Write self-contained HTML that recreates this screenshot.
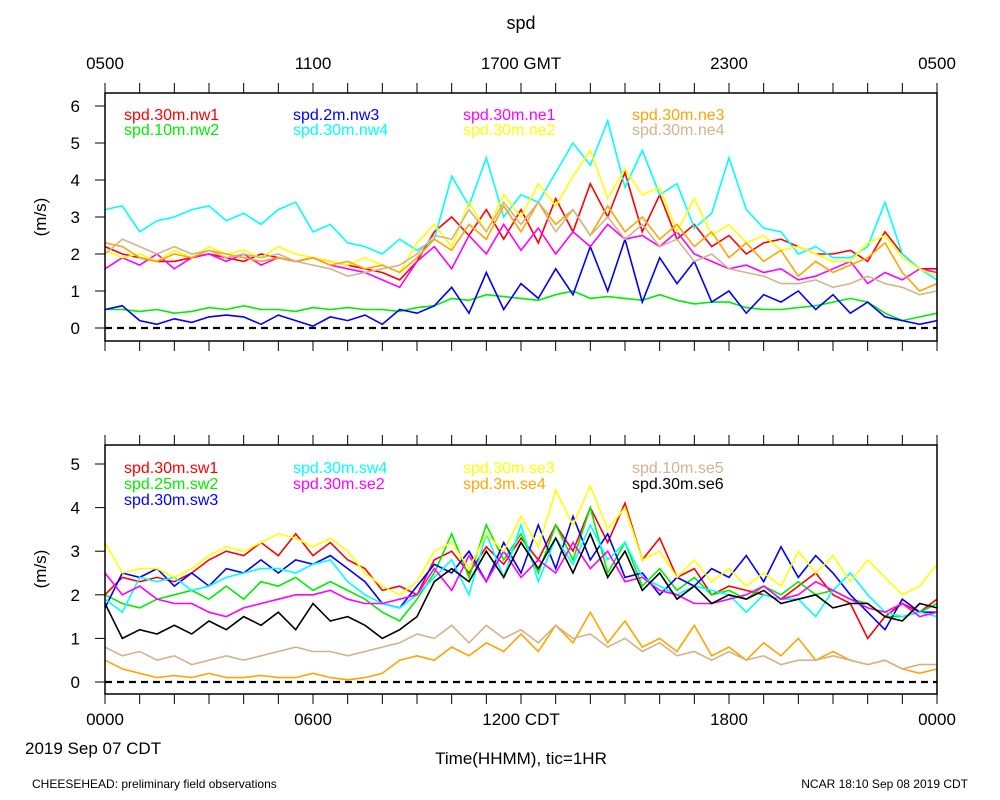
<!DOCTYPE html>
<html><head><meta charset="utf-8"><style>
body{margin:0;background:#fff}
svg{display:block;font-family:"Liberation Sans",sans-serif}
</style></head><body>
<svg id="c" width="1000" height="800"></svg>
<script>
const topSeriesNames=["spd.30m.nw1","spd.10m.nw2","spd.2m.nw3","spd.30m.nw4","spd.30m.ne1","spd.30m.ne2","spd.30m.ne3","spd.30m.ne4"];
const topColors=["#ff0000","#00ee00","#0000ff","#00ffff","#ff00ff","#ffff00","#ffa500","#d2b48c"];
const nw1=[2.2,2.0,1.9,1.8,1.8,1.9,2.0,1.9,1.8,2.0,1.9,1.8,1.9,1.8,1.7,1.6,1.5,1.3,1.8,2.6,3.0,2.5,3.2,2.4,3.2,2.3,3.5,2.6,3.9,3.0,4.2,2.6,3.6,2.4,2.8,2.2,2.5,2.0,2.3,2.4,2.2,2.0,2.0,2.1,1.8,2.6,2.0,1.6,1.6];
const nw2=[0.5,0.5,0.45,0.5,0.4,0.45,0.55,0.5,0.6,0.5,0.5,0.45,0.55,0.5,0.55,0.5,0.5,0.45,0.55,0.6,0.8,0.75,0.9,0.85,0.8,0.75,0.9,1.0,0.8,0.85,0.8,0.75,0.9,0.75,0.65,0.7,0.7,0.55,0.5,0.5,0.55,0.6,0.7,0.8,0.7,0.4,0.2,0.3,0.4];
const nw3=[0.5,0.6,0.2,0.1,0.25,0.15,0.3,0.35,0.3,0.1,0.35,0.2,0.05,0.3,0.2,0.35,0.1,0.5,0.4,0.6,1.1,0.4,1.5,0.5,1.2,0.8,1.6,0.9,2.2,1.0,2.4,0.7,1.9,1.2,1.8,0.7,1.0,0.4,0.9,0.7,1.0,0.5,0.9,0.4,0.7,0.3,0.2,0.1,0.2];
const nw4=[3.2,3.3,2.6,2.9,3.0,3.2,3.3,2.9,3.1,2.8,3.2,3.4,2.6,2.8,2.3,2.2,2.0,2.4,2.1,2.4,4.1,3.3,4.6,3.0,3.6,3.4,4.2,5.0,4.4,5.6,3.8,4.8,3.6,3.9,2.7,3.1,4.6,3.2,2.7,2.6,2.0,2.2,1.9,1.9,2.2,3.4,2.0,1.6,1.3];
const ne1=[1.6,1.9,1.7,2.0,1.6,1.9,2.0,1.8,2.0,1.7,1.9,1.8,1.9,1.7,1.6,1.5,1.3,1.1,1.8,2.2,1.6,2.5,2.0,2.8,2.1,2.7,2.0,2.6,2.2,2.8,2.4,2.5,2.2,2.6,2.0,1.8,1.6,1.7,1.5,1.6,1.3,1.4,1.6,1.8,1.2,1.5,1.3,1.6,1.5];
const ne2=[2.1,1.9,2.0,1.8,2.1,1.9,2.2,2.0,2.1,1.9,2.2,2.0,1.9,1.8,1.7,1.9,1.7,1.5,2.3,2.8,2.2,3.4,2.6,3.6,3.0,3.9,3.3,4.1,4.8,3.5,4.3,3.6,3.8,2.6,3.5,2.5,2.8,2.3,2.5,2.1,2.2,2.0,1.8,1.8,2.3,2.5,1.9,1.6,1.4];
const ne3=[2.3,2.2,1.9,1.8,2.0,1.9,2.1,2.0,1.9,1.8,1.9,1.8,1.9,1.7,1.8,1.6,1.7,1.5,1.9,2.4,2.1,2.8,2.4,3.3,2.6,3.4,2.8,3.2,2.5,3.3,2.6,3.0,2.4,2.8,2.2,2.6,1.9,2.3,1.8,2.1,1.4,1.8,1.5,1.7,1.9,2.3,1.5,1.0,1.2];
const ne4=[2.0,2.4,2.2,2.0,2.2,2.0,2.1,1.9,2.0,1.9,2.0,1.8,1.7,1.6,1.4,1.5,1.6,1.7,2.0,2.5,2.4,3.2,2.6,3.4,2.8,3.4,2.6,3.2,2.5,3.0,2.4,2.8,2.2,2.4,1.8,2.0,1.6,1.5,1.4,1.2,1.2,1.3,1.1,1.2,1.4,1.2,1.1,0.9,1.0];
const botSeriesNames=["spd.30m.sw1","spd.25m.sw2","spd.30m.sw3","spd.30m.sw4","spd.30m.se2","spd.30m.se3","spd.3m.se4","spd.10m.se5","spd.30m.se6"];
const botColors=["#ff0000","#00ee00","#0000ff","#00ffff","#ff00ff","#ffff00","#ffa500","#d2b48c","#000000"];
const sw1=[2.0,2.4,2.3,2.4,2.3,2.5,2.8,3.0,2.9,3.2,2.9,3.4,2.9,3.2,2.8,2.6,2.1,2.2,2.0,2.8,3.0,2.5,3.1,2.7,3.3,2.8,3.6,3.0,4.0,3.2,4.1,2.8,3.3,2.4,2.6,2.0,2.2,2.1,2.0,1.9,2.2,2.5,2.0,1.8,1.0,1.5,1.8,1.6,1.9];
const sw2=[2.0,1.8,1.7,1.9,2.0,2.1,1.9,2.2,1.9,2.3,2.2,2.4,2.1,2.3,2.1,1.9,1.6,1.4,1.9,2.5,3.4,2.4,3.6,2.8,3.4,2.5,3.6,2.8,4.0,2.5,3.2,2.2,2.6,2.1,2.4,2.0,2.1,1.9,2.2,2.0,2.3,2.0,2.1,1.9,1.8,1.5,1.5,1.6,1.8];
const sw3=[1.7,2.5,2.4,2.6,2.2,2.5,2.2,2.6,2.5,2.8,2.5,2.8,2.7,2.9,2.6,2.3,1.8,1.7,2.2,2.7,2.5,3.0,2.3,3.2,2.5,3.6,2.6,3.8,2.8,3.4,2.4,2.5,2.0,2.4,2.2,2.6,2.4,2.9,2.3,3.1,2.4,2.9,2.5,2.0,1.6,1.2,1.9,1.6,1.6];
const sw4=[1.9,1.6,2.4,2.3,2.4,2.1,2.2,2.4,2.5,2.6,2.6,2.5,2.7,2.8,2.3,2.0,1.8,1.7,2.0,2.4,2.8,2.0,3.4,2.4,3.6,2.3,3.3,2.7,3.6,2.8,3.2,2.4,2.2,2.0,2.2,2.1,2.0,1.6,2.0,1.9,1.9,1.5,2.1,2.5,2.0,1.6,1.5,1.6,1.5];
const se2=[2.5,2.0,2.2,1.9,1.8,1.8,1.6,1.5,1.7,1.8,1.9,2.0,2.0,2.1,1.9,1.8,1.8,1.9,2.0,2.6,2.1,2.9,2.3,3.0,2.4,2.8,2.5,3.2,2.6,3.0,2.3,2.4,2.1,2.0,1.8,1.8,1.9,2.0,2.2,1.9,2.0,2.3,2.1,1.9,1.7,1.6,1.8,1.5,1.6];
const se3=[3.2,2.5,2.6,2.6,2.4,2.6,2.9,3.1,3.0,3.2,3.4,3.3,3.1,3.3,3.0,2.5,2.2,2.0,2.3,3.0,3.2,2.6,3.4,3.0,3.8,3.1,4.4,3.6,4.5,3.5,4.0,2.8,3.0,2.4,2.8,2.3,2.6,2.2,2.5,2.2,3.0,2.5,2.9,2.3,2.8,2.4,2.0,2.2,2.7];
const se4=[0.5,0.3,0.2,0.1,0.15,0.1,0.2,0.1,0.1,0.15,0.1,0.1,0.2,0.1,0.05,0.1,0.2,0.5,0.6,0.5,0.8,0.6,0.9,0.7,1.1,0.7,1.3,0.9,1.6,0.9,1.4,0.8,1.0,0.7,1.3,0.6,0.8,0.5,0.9,0.6,1.0,0.5,0.7,0.5,0.4,0.5,0.3,0.2,0.3];
const se5=[0.8,0.6,0.7,0.5,0.6,0.4,0.5,0.6,0.5,0.6,0.7,0.8,0.7,0.7,0.6,0.7,0.8,0.9,1.1,1.0,1.3,0.9,1.3,1.0,1.2,0.9,1.3,1.0,1.1,0.8,1.0,0.7,0.9,0.6,0.7,0.5,0.7,0.5,0.6,0.4,0.5,0.5,0.6,0.5,0.4,0.5,0.3,0.4,0.4];
const se6=[1.8,1.0,1.2,1.1,1.3,1.1,1.4,1.2,1.5,1.3,1.6,1.2,1.8,1.4,1.5,1.3,1.0,1.2,1.5,2.3,2.6,2.3,3.0,2.4,3.2,2.6,3.3,2.5,3.4,2.4,3.0,2.1,2.5,1.9,2.2,1.8,2.0,1.9,2.1,1.8,1.9,2.0,1.7,1.8,1.8,1.5,1.4,1.8,1.7];
const topYTicks=[0,1,2,3,4,5,6];
const botYTicks=[0,1,2,3,4,5];
const gmtLabels=["0500","1100","1700 GMT","2300","0500"];
const cdtLabels=["0000","0600","1200 CDT","1800","0000"];

const svg=document.getElementById('c');
const NS="http://www.w3.org/2000/svg";
function mk(tag,attrs,parent,name,text){const e=document.createElementNS(NS,tag);for(const k in attrs)e.setAttribute(k,attrs[k]);


if(text!==undefined)e.textContent=text;(parent||svg).appendChild(e);return e;}
const X0=105,X1=937;
const xs=h=>X0+(X1-X0)*h/24;
function panel(p,series,colors,names,yTicks,yScale,y0,legend){
  const g=mk('g',{},svg,p+'-panel');
  const ys=v=>y0-v*yScale;
  mk('text',{x:46,y:(p==='top'?217:569),'font-size':17,'text-anchor':'middle',transform:`rotate(-90 46 ${p==='top'?217:569})`},g,p+'-y-axis-title','(m/s)');
  yTicks.forEach(t=>{const y=ys(t);mk('line',{x1:95,x2:105,y1:y,y2:y,stroke:'#000'},g,p+'-y-tick');
    mk('text',{x:80,y:y+6,'font-size':17,'text-anchor':'end'},g,p+'-y-tick-label',t);});
  series.forEach((s,k)=>{const n=s.length;let d='';s.forEach((v,i)=>{d+=(i?'L':'M')+xs(i*24/(n-1)).toFixed(1)+','+ys(v).toFixed(1);});
    mk('path',{d,fill:'none',stroke:colors[k],'stroke-width':1.6},g,'series-'+names[k].replace(/\./g,'-'));});
  mk('line',{x1:X0,x2:X1,y1:ys(0),y2:ys(0),stroke:'#000','stroke-width':2.2,'stroke-dasharray':'7,5'},g,p+'-zero-line');
  legend.forEach(([x,y,k])=>mk('text',{x,y,'font-size':16,fill:colors[k]},g,'legend-entry',names[k]));
}
// top panel
const topTop=93,topBot=341,botTop=445,botBot=694;
panel('top',[nw1,nw2,nw3,nw4,ne1,ne2,ne3,ne4],topColors,topSeriesNames,topYTicks,37,328,
 [[124,120,0],[124,135,1],[293,120,2],[293,135,3],[463,120,4],[463,135,5],[632,120,6],[632,135,7]]);
panel('bottom',[sw1,sw2,sw3,sw4,se2,se3,se4,se5,se6],botColors,botSeriesNames,botYTicks,43.6,682,
 [[124,473,0],[124,489,1],[124,505,2],[293,473,3],[293,489,4],[463,473,5],[463,489,6],[632,473,7],[632,489,8]]);
[[topTop,topBot],[botTop,botBot]].forEach(([a,b],i)=>{
  mk('rect',{x:X0,y:a,width:X1-X0,height:b-a,fill:'none',stroke:'#000','stroke-width':1.5},svg,'plot-frame');
  for(let h=0;h<=24;h++){const x=xs(h),L=h%6===0?10:10;
    mk('line',{x1:x,x2:x,y1:a-L,y2:a,stroke:'#000'},svg,'x-tick');
    mk('line',{x1:x,x2:x,y1:b,y2:b+L,stroke:'#000'},svg,'x-tick');}
});
mk('text',{x:521,y:29,'font-size':18,'text-anchor':'middle'},svg,'chart-title','spd');
gmtLabels.forEach((l,i)=>mk('text',{x:xs(i*6),y:69,'font-size':17,'text-anchor':'middle'},svg,'gmt-tick-label',l));
cdtLabels.forEach((l,i)=>mk('text',{x:xs(i*6),y:725,'font-size':17,'text-anchor':'middle'},svg,'cdt-tick-label',l));
mk('text',{x:25,y:754,'font-size':17},svg,'date-label','2019 Sep 07 CDT');
mk('text',{x:521,y:764,'font-size':17,'text-anchor':'middle'},svg,'x-axis-title','Time(HHMM), tic=1HR');
mk('text',{x:32,y:788,'font-size':12},svg,'footer-left','CHEESEHEAD: preliminary field observations');
mk('text',{x:968,y:788,'font-size':12,'text-anchor':'end'},svg,'footer-right','NCAR 18:10 Sep 08 2019 CDT');
</script>
</body></html>
